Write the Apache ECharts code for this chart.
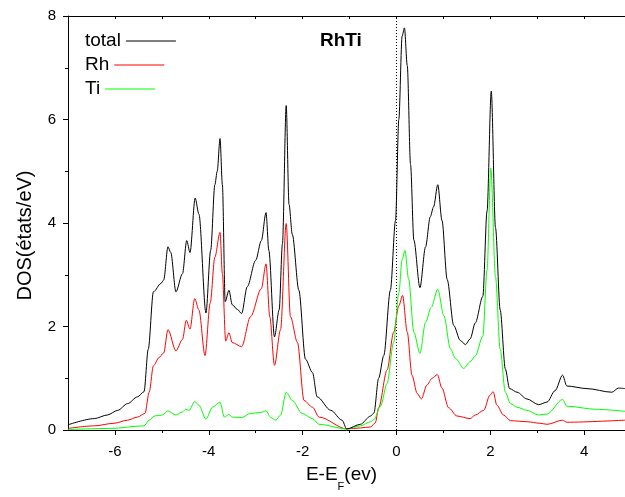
<!DOCTYPE html>
<html>
<head>
<meta charset="utf-8">
<script src="https://cdn.jsdelivr.net/npm/echarts@6/dist/echarts.min.js"></script>
<style>
html,body{margin:0;padding:0;background:#fff;}
#chart{width:625px;height:497px;background:#fff;}
</style>
</head>
<body>
<div id="chart"></div>
<script>
// ---- data ----
const totalE   = [-7.0,-6.44,-6.16,-5.94,-5.73,-5.52,-5.38,-5.29,-5.18,-5.02,-4.96,-4.87,-4.81,-4.70,-4.56,-4.47,-4.40,-4.29,-4.21,-4.06,-3.96,-3.87,-3.82,-3.76,-3.71,-3.65,-3.57,-3.50,-3.39,-3.30,-3.18,-3.00,-2.88,-2.78,-2.72,-2.60,-2.50,-2.43,-2.35,-2.29,-2.22,-2.08,-1.94,-1.79,-1.69,-1.40,-1.16,-1.06,-0.77,-0.55,-0.48,-0.38,-0.27,-0.13,-0.02,0.05,0.12,0.17,0.23,0.30,0.37,0.50,0.62,0.72,0.79,0.88,0.97,1.08,1.22,1.36,1.47,1.57,1.68,1.84,1.93,2.02,2.11,2.21,2.32,2.41,2.57,2.78,3.03,3.21,3.38,3.54,3.63,4.06,4.59,4.73,4.87];
const totalDOS = [0.10,0.22,0.29,0.38,0.51,0.64,0.74,1.56,2.67,2.83,2.90,3.54,3.43,2.67,3.02,3.66,3.43,4.48,4.17,2.26,3.47,4.74,5.00,5.63,4.74,2.48,2.70,2.42,2.33,2.25,2.77,3.28,3.66,4.20,3.47,1.80,2.32,3.60,6.27,4.36,3.78,2.70,1.37,1.11,0.64,0.38,0.19,0.02,0.11,0.27,0.33,1.00,1.44,2.70,4.05,6.00,7.61,7.77,7.04,5.13,3.67,2.75,3.54,4.12,4.31,4.74,4.05,2.91,2.02,1.73,1.65,1.76,2.07,2.58,4.23,6.55,3.91,2.32,1.18,0.80,0.73,0.60,0.49,0.54,0.76,1.06,0.85,0.80,0.73,0.81,0.80];

const rhE   = [-7.0,-6.44,-6.02,-5.73,-5.52,-5.36,-5.27,-5.18,-5.06,-4.96,-4.87,-4.70,-4.56,-4.48,-4.40,-4.30,-4.21,-4.08,-3.97,-3.87,-3.76,-3.71,-3.64,-3.57,-3.50,-3.30,-3.11,-2.88,-2.78,-2.70,-2.60,-2.47,-2.35,-2.26,-2.11,-1.97,-1.79,-1.65,-1.06,-0.77,-0.55,-0.45,-0.38,-0.20,-0.06,0.05,0.13,0.23,0.33,0.44,0.53,0.65,0.76,0.87,0.97,1.11,1.29,1.57,1.68,1.86,1.99,2.06,2.14,2.28,2.43,2.78,3.06,3.21,3.54,3.63,4.87];
const rhDOS = [0.03,0.08,0.13,0.19,0.25,0.32,0.73,1.24,1.40,1.49,1.94,1.53,1.75,2.12,1.95,2.54,2.32,1.44,2.45,3.34,3.82,3.02,1.72,1.88,1.69,1.61,2.19,2.73,3.21,2.19,1.25,1.94,3.99,2.19,1.69,0.57,0.44,0.25,0.02,0.04,0.06,0.14,0.43,1.16,1.89,2.40,2.60,1.89,1.06,0.71,0.60,0.87,1.00,1.07,0.81,0.43,0.27,0.22,0.29,0.38,0.67,0.74,0.48,0.29,0.18,0.16,0.13,0.11,0.19,0.15,0.19];

const tiE   = [-7.0,-6.09,-5.38,-5.27,-5.16,-4.99,-4.87,-4.70,-4.56,-4.49,-4.42,-4.30,-4.21,-4.06,-3.92,-3.76,-3.67,-3.57,-3.50,-3.30,-3.11,-2.89,-2.78,-2.68,-2.57,-2.47,-2.35,-2.22,-2.01,-1.79,-1.65,-1.06,-0.77,-0.55,-0.48,-0.34,-0.20,-0.06,0.05,0.12,0.18,0.26,0.37,0.50,0.62,0.74,0.88,1.01,1.15,1.26,1.43,1.57,1.68,1.84,1.93,2.01,2.11,2.21,2.32,2.43,2.57,2.78,3.03,3.21,3.54,3.63,4.25,4.87];
const tiDOS = [0.01,0.03,0.08,0.19,0.27,0.29,0.37,0.29,0.35,0.40,0.38,0.55,0.48,0.21,0.44,0.54,0.25,0.30,0.25,0.24,0.32,0.34,0.37,0.24,0.19,0.29,0.73,0.57,0.32,0.22,0.11,0.02,0.08,0.16,0.20,0.46,0.90,1.70,2.65,3.29,3.47,2.91,1.89,1.48,2.08,2.37,2.72,2.21,1.57,1.38,1.19,1.32,1.43,1.81,3.09,5.06,2.96,1.56,0.73,0.51,0.44,0.38,0.29,0.31,0.59,0.46,0.40,0.36];

// Fermi level reference line (E = 0), spanning the y range
const fermiE   = [0, 0];
const fermiDOS = [0, 8];

const xMajorTicks = [-6,-4,-2,0,2,4];
const xMinorTicks = [-5,-3,-1,1,3];
const xAllTicks   = [-7,-6,-5,-4,-3,-2,-1,0,1,2,3,4];
const seriesNames = ['total','Rh','Ti'];
const seriesColors = ['#000000','#ff0000','#00ff00'];
const chartTitle  = 'RhTi';
const xTitle = 'E-E{sub|F}(ev)';
const yTitle = 'DOS(états/eV)';

// ---- chart ----
const pairs = (xs, ys) => xs.map((x, i) => [x, ys[i]]);
const FONT = 'Liberation Sans, Arial, sans-serif';
const XMIN = -7, XMAX = 4.87;
const black = '#000';

const legends = seriesNames.map((n, i) => ({
  orient: 'horizontal', left: 85, top: 29 + i * 24, padding: 0,
  align: 'right', itemWidth: 50, itemHeight: 1, icon: 'rect',
  data: [n], selectedMode: false,
  textStyle: {fontFamily: FONT, fontSize: 19, color: black, lineHeight: 24}
}));

const curveSeries = seriesNames.map((n, i) => ({
  name: n, type: 'line', xAxisIndex: 0, yAxisIndex: 0,
  data: pairs([totalE, rhE, tiE][i], [totalDOS, rhDOS, tiDOS][i]),
  symbol: 'none', smooth: 0.3, smoothMonotone: 'x',
  lineStyle: {color: seriesColors[i], width: 1}, itemStyle: {color: seriesColors[i]},
  z: i === 0 ? 3 : 2
}));

const chart = echarts.init(document.getElementById('chart'), null, {renderer: 'canvas'});
chart.setOption({
  animation: false,
  title: {
    text: chartTitle, left: 320, top: 31, padding: 0,
    textStyle: {fontFamily: FONT, fontSize: 19, fontWeight: 'bold', color: black}
  },
  legend: legends,
  grid: {left: 68, right: 0, top: 16, bottom: 62, containLabel: false},
  xAxis: [
    {
      type: 'value', min: XMIN, max: XMAX, position: 'bottom',
      axisLine: {show: true, onZero: false, lineStyle: {color: black, width: 1}},
      axisTick: {show: true, customValues: xMajorTicks, length: 5, inside: false, lineStyle: {color: black}},
      axisLabel: {show: true, customValues: xMajorTicks, margin: 14, fontSize: 15, fontFamily: FONT, color: black},
      splitLine: {show: false},
      name: xTitle, nameLocation: 'middle', nameGap: 27,
      nameTextStyle: {
        fontFamily: FONT, fontSize: 19, color: black, padding: [0, 10, 0, 0],
        rich: {sub: {fontFamily: FONT, fontSize: 11, color: black, padding: [24, 0, 0, 0]}}
      }
    },
    {
      type: 'value', min: XMIN, max: XMAX, position: 'bottom',
      axisLine: {show: false, onZero: false},
      axisTick: {show: true, customValues: xMinorTicks, length: 3, inside: false, lineStyle: {color: black}},
      axisLabel: {show: false},
      splitLine: {show: false}
    },
    {
      type: 'value', min: XMIN, max: XMAX, position: 'top',
      axisLine: {show: true, onZero: false, lineStyle: {color: black, width: 1}},
      axisTick: {show: true, customValues: xAllTicks, length: 3, inside: true, lineStyle: {color: black}},
      axisLabel: {show: false},
      splitLine: {show: false}
    }
  ],
  yAxis: {
    type: 'value', min: 0, max: 8, interval: 2, position: 'left',
    axisLine: {show: true, onZero: false, lineStyle: {color: black, width: 1}},
    axisTick: {show: true, length: 5, inside: false, lineStyle: {color: black}},
    minorTick: {show: true, splitNumber: 2, length: 3, lineStyle: {color: black}},
    axisLabel: {margin: 12, fontSize: 15, fontFamily: FONT, color: black},
    splitLine: {show: false},
    minorSplitLine: {show: false},
    name: yTitle, nameLocation: 'middle', nameGap: 32, nameRotate: 90,
    nameTextStyle: {fontFamily: FONT, fontSize: 20, color: black, lineHeight: 22, padding: [0, 25, 0, 0]}
  },
  series: curveSeries.concat([{
    name: 'EF', type: 'line', xAxisIndex: 0, yAxisIndex: 0,
    data: pairs(fermiE, fermiDOS), symbol: 'none', silent: true,
    lineStyle: {color: black, width: 1, type: [1, 2]}, z: 1
  }])
});
</script>
</body>
</html>
